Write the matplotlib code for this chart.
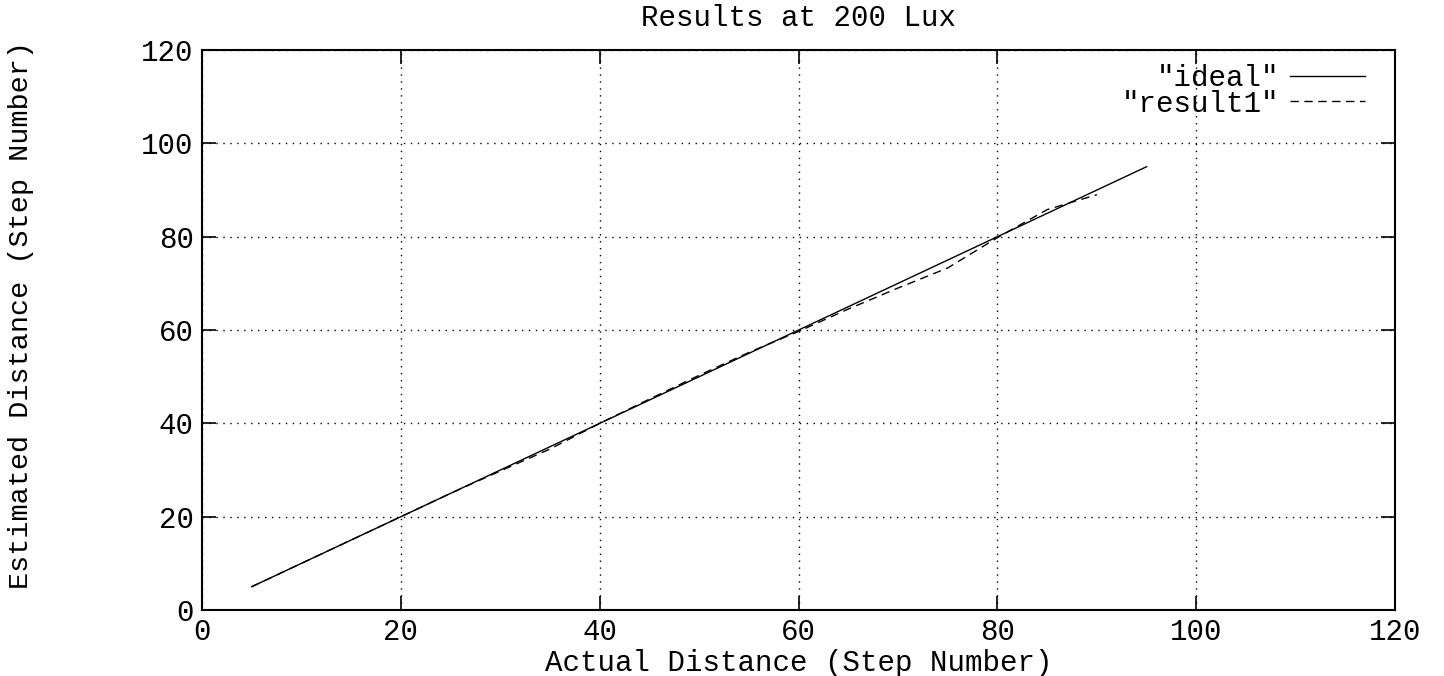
import matplotlib.pyplot as plt

# Data
ideal_x = [5, 95]
ideal_y = [5, 95]

result_x = [5, 10, 15, 20, 25, 30, 35, 40, 45, 50, 55, 60, 65, 70, 75, 80, 85, 90]
result_y = [5, 10, 15, 20, 25, 29.8, 34.5, 40, 45.2, 50.3, 55.2, 59.7, 64.5, 69, 73.3, 79.8, 85.8, 89]

x_ticks = [0, 20, 40, 60, 80, 100, 120]
y_ticks = [0, 20, 40, 60, 80, 100, 120]

mono = 'Liberation Mono'

fig = plt.figure(figsize=(14.44, 6.76), dpi=100)
ax = fig.add_axes([0.1399, 0.0976, 0.8263, 0.8284])

ax.plot(ideal_x, ideal_y, color='black', linewidth=1.0, label='"ideal"')
ax.plot(result_x, result_y, color='black', linewidth=1.0, linestyle=(0, (6, 4)), label='"result1"')

ax.set_xlim(0, 120)
ax.set_ylim(0, 120)
ax.set_xticks(x_ticks)
ax.set_yticks(y_ticks)
ax.set_xticklabels([str(t) for t in x_ticks], fontname=mono, fontsize=21)
ax.set_yticklabels([str(t) for t in y_ticks], fontname=mono, fontsize=21)
ax.tick_params(direction='in', length=10, width=1.2, top=True, right=True, pad=6)

ax.grid(True, color='black', linestyle=(0, (1, 4)), linewidth=1.0)
for s in ax.spines.values():
    s.set_linewidth(1.5)

ax.set_title('Results at 200 Lux', fontname=mono, fontsize=21, pad=17)
ax.set_xlabel('Actual Distance (Step Number)', fontname=mono, fontsize=21, labelpad=2)
ax.set_ylabel('Estimated Distance (Step Number)', fontname=mono, fontsize=20.5)
ax.yaxis.set_label_coords(-0.141, 0.527)

leg = ax.legend(loc='upper right', bbox_to_anchor=(0.975, 0.975), frameon=False,
                markerfirst=False, handlelength=2.6, handletextpad=0.35,
                labelspacing=-0.08, borderpad=0, borderaxespad=0,
                prop={'family': mono, 'size': 21})
for t in leg.get_texts():
    t.set_ha('right')

fig.savefig('out.png', dpi=100)
